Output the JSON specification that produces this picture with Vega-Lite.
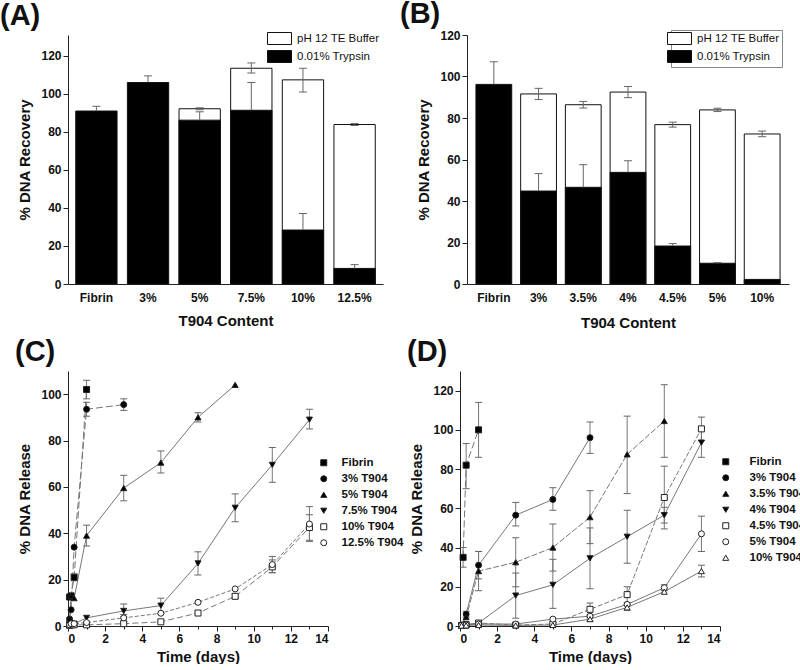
{
  "$schema": "https://vega.github.io/schema/vega-lite/v6.json",
  "padding": {"left": 0, "top": 0, "right": 0, "bottom": 0},
  "config": {
    "view": {"stroke": null},
    "font": "Liberation Sans",
    "axis": {"labelFont": "Liberation Sans", "labelFontWeight": "bold", "labelFontSize": 12, "labelColor": "#111", "titleFont": "Liberation Sans", "titleFontWeight": "bold", "titleFontSize": 15, "titleColor": "#111", "domainColor": "#222", "tickColor": "#222", "grid": false, "tickSize": 5, "labelOverlap": false},
    "legend": {"labelFont": "Liberation Sans", "labelColor": "#111"},
    "title": {"font": "Liberation Sans", "fontSize": 29, "fontWeight": "bold", "anchor": "start", "frame": "group", "color": "#111"}
  },
  "datasets": {
    "barsA": [
      {"group": "5%", "series": "pH 12 TE Buffer", "value": 92.2, "lo": 91.7, "hi": 92.7},
      {"group": "7.5%", "series": "pH 12 TE Buffer", "value": 113.5, "lo": 111, "hi": 116.3},
      {"group": "10%", "series": "pH 12 TE Buffer", "value": 107.4, "lo": 101, "hi": 113.5},
      {"group": "12.5%", "series": "pH 12 TE Buffer", "value": 83.9, "lo": 83.4, "hi": 84.4},
      {"group": "Fibrin", "series": "0.01% Trypsin", "value": 91, "lo": 91, "hi": 93.5},
      {"group": "3%", "series": "0.01% Trypsin", "value": 106, "lo": 106, "hi": 109.5},
      {"group": "5%", "series": "0.01% Trypsin", "value": 86.2, "lo": 86.2, "hi": 90.6},
      {"group": "7.5%", "series": "0.01% Trypsin", "value": 91.4, "lo": 91.4, "hi": 106},
      {"group": "10%", "series": "0.01% Trypsin", "value": 28.4, "lo": 28.4, "hi": 37.1},
      {"group": "12.5%", "series": "0.01% Trypsin", "value": 8.2, "lo": 8.2, "hi": 10.2}
    ],
    "barsB": [
      {"group": "3%", "series": "pH 12 TE Buffer", "value": 91.6, "lo": 88.9, "hi": 94.3},
      {"group": "3.5%", "series": "pH 12 TE Buffer", "value": 86.4, "lo": 84.8, "hi": 88.0},
      {"group": "4%", "series": "pH 12 TE Buffer", "value": 92.5, "lo": 89.8, "hi": 95.2},
      {"group": "4.5%", "series": "pH 12 TE Buffer", "value": 76.8, "lo": 75.6, "hi": 78.0},
      {"group": "5%", "series": "pH 12 TE Buffer", "value": 83.9, "lo": 83.1, "hi": 84.7},
      {"group": "10%", "series": "pH 12 TE Buffer", "value": 72.3, "lo": 71.0, "hi": 73.7},
      {"group": "Fibrin", "series": "0.01% Trypsin", "value": 96.2, "lo": 96.2, "hi": 107.1},
      {"group": "3%", "series": "0.01% Trypsin", "value": 44.8, "lo": 44.8, "hi": 53.2},
      {"group": "3.5%", "series": "0.01% Trypsin", "value": 46.6, "lo": 46.6, "hi": 57.5},
      {"group": "4%", "series": "0.01% Trypsin", "value": 53.8, "lo": 53.8, "hi": 59.4},
      {"group": "4.5%", "series": "0.01% Trypsin", "value": 18.3, "lo": 18.3, "hi": 19.5},
      {"group": "5%", "series": "0.01% Trypsin", "value": 10.0, "lo": 10.0, "hi": 10.3},
      {"group": "10%", "series": "0.01% Trypsin", "value": 2.2}
    ],
    "relC": [
      {"series": "Fibrin", "t": 0.083, "v": 12.5},
      {"series": "Fibrin", "t": 0.167, "v": 13},
      {"series": "Fibrin", "t": 0.33, "v": 21, "lo": 19.5, "hi": 22.5},
      {"series": "Fibrin", "t": 1, "v": 102, "lo": 98, "hi": 106},
      {"series": "3% T904", "t": 0.083, "v": 3},
      {"series": "3% T904", "t": 0.167, "v": 7},
      {"series": "3% T904", "t": 0.33, "v": 34},
      {"series": "3% T904", "t": 1, "v": 93.5, "lo": 90.5, "hi": 96.5},
      {"series": "3% T904", "t": 3, "v": 95.5, "lo": 93, "hi": 98},
      {"series": "5% T904", "t": 0.083, "v": 3},
      {"series": "5% T904", "t": 0.167, "v": 13},
      {"series": "5% T904", "t": 0.33, "v": 12},
      {"series": "5% T904", "t": 1, "v": 39, "lo": 34.5, "hi": 43.5},
      {"series": "5% T904", "t": 3, "v": 59.5, "lo": 54, "hi": 65},
      {"series": "5% T904", "t": 5, "v": 70.5, "lo": 66, "hi": 75.5},
      {"series": "5% T904", "t": 7, "v": 90, "lo": 88, "hi": 92},
      {"series": "5% T904", "t": 9, "v": 104},
      {"series": "7.5% T904", "t": 0.083, "v": 0.5},
      {"series": "7.5% T904", "t": 0.167, "v": 1},
      {"series": "7.5% T904", "t": 0.33, "v": 1},
      {"series": "7.5% T904", "t": 1, "v": 3.5},
      {"series": "7.5% T904", "t": 3, "v": 6.5, "lo": 4, "hi": 9.5},
      {"series": "7.5% T904", "t": 5, "v": 8.8, "lo": 5.5, "hi": 12},
      {"series": "7.5% T904", "t": 7, "v": 27, "lo": 22, "hi": 32},
      {"series": "7.5% T904", "t": 9, "v": 51, "lo": 45, "hi": 57},
      {"series": "7.5% T904", "t": 11, "v": 69.5, "lo": 62, "hi": 77},
      {"series": "7.5% T904", "t": 13, "v": 89, "lo": 85, "hi": 93.5},
      {"series": "10% T904", "t": 0.083, "v": 0.3},
      {"series": "10% T904", "t": 0.167, "v": 0.5},
      {"series": "10% T904", "t": 0.33, "v": 0.5},
      {"series": "10% T904", "t": 1, "v": 0.5},
      {"series": "10% T904", "t": 3, "v": 1},
      {"series": "10% T904", "t": 5, "v": 1.8},
      {"series": "10% T904", "t": 7, "v": 5.6},
      {"series": "10% T904", "t": 9, "v": 12.8, "lo": 12, "hi": 13.8},
      {"series": "10% T904", "t": 11, "v": 25.5, "lo": 23, "hi": 28.5},
      {"series": "10% T904", "t": 13, "v": 42.5, "lo": 37, "hi": 48},
      {"series": "12.5% T904", "t": 0.083, "v": 0.5},
      {"series": "12.5% T904", "t": 0.167, "v": 1},
      {"series": "12.5% T904", "t": 0.33, "v": 1},
      {"series": "12.5% T904", "t": 1, "v": 1.5},
      {"series": "12.5% T904", "t": 3, "v": 3.5, "lo": 2, "hi": 5},
      {"series": "12.5% T904", "t": 5, "v": 5.5},
      {"series": "12.5% T904", "t": 7, "v": 10.2},
      {"series": "12.5% T904", "t": 9, "v": 16},
      {"series": "12.5% T904", "t": 11, "v": 26.5, "lo": 23, "hi": 30},
      {"series": "12.5% T904", "t": 13, "v": 44, "lo": 36.5, "hi": 51.5}
    ],
    "relD": [
      {"series": "Fibrin", "t": 0.167, "v": 35, "lo": 30, "hi": 40},
      {"series": "Fibrin", "t": 0.33, "v": 82, "lo": 70, "hi": 93},
      {"series": "Fibrin", "t": 1, "v": 100, "lo": 86, "hi": 114},
      {"series": "3% T904", "t": 0.083, "v": 0.5},
      {"series": "3% T904", "t": 0.33, "v": 6, "lo": 4.5, "hi": 7.5},
      {"series": "3% T904", "t": 1, "v": 31, "lo": 24, "hi": 38},
      {"series": "3% T904", "t": 3, "v": 56.5, "lo": 51, "hi": 63},
      {"series": "3% T904", "t": 5, "v": 64.5, "lo": 59, "hi": 70.5},
      {"series": "3% T904", "t": 7, "v": 96, "lo": 88, "hi": 104},
      {"series": "3.5% T904", "t": 0.083, "v": 0.5},
      {"series": "3.5% T904", "t": 0.33, "v": 4.5},
      {"series": "3.5% T904", "t": 1, "v": 28, "lo": 18, "hi": 38},
      {"series": "3.5% T904", "t": 3, "v": 32.5, "lo": 20, "hi": 45},
      {"series": "3.5% T904", "t": 5, "v": 40, "lo": 28, "hi": 52},
      {"series": "3.5% T904", "t": 7, "v": 55.5, "lo": 42, "hi": 69},
      {"series": "3.5% T904", "t": 9, "v": 87.5, "lo": 67.5, "hi": 107},
      {"series": "3.5% T904", "t": 11, "v": 104.5, "lo": 86, "hi": 123},
      {"series": "4% T904", "t": 0.083, "v": 0.3},
      {"series": "4% T904", "t": 0.33, "v": 0.8},
      {"series": "4% T904", "t": 1, "v": 1.5},
      {"series": "4% T904", "t": 3, "v": 15.5, "lo": 4, "hi": 27},
      {"series": "4% T904", "t": 5, "v": 21, "lo": 9, "hi": 34},
      {"series": "4% T904", "t": 7, "v": 34.5, "lo": 19, "hi": 50},
      {"series": "4% T904", "t": 9, "v": 45.5, "lo": 32, "hi": 59},
      {"series": "4% T904", "t": 11, "v": 56.5, "lo": 52.5, "hi": 60.5},
      {"series": "4% T904", "t": 13, "v": 93.5, "lo": 86, "hi": 101},
      {"series": "4.5% T904", "t": 0.083, "v": 0.3},
      {"series": "4.5% T904", "t": 0.33, "v": 0.5},
      {"series": "4.5% T904", "t": 1, "v": 1.5},
      {"series": "4.5% T904", "t": 3, "v": 0.5},
      {"series": "4.5% T904", "t": 5, "v": 1},
      {"series": "4.5% T904", "t": 7, "v": 8.5, "lo": 5.5, "hi": 11.7},
      {"series": "4.5% T904", "t": 9, "v": 16, "lo": 12, "hi": 20},
      {"series": "4.5% T904", "t": 11, "v": 65.5, "lo": 49.5, "hi": 81.5},
      {"series": "4.5% T904", "t": 13, "v": 100.5, "lo": 94.5, "hi": 106.5},
      {"series": "5% T904", "t": 0.083, "v": 0.3},
      {"series": "5% T904", "t": 0.33, "v": 0.5},
      {"series": "5% T904", "t": 1, "v": 1},
      {"series": "5% T904", "t": 3, "v": 1},
      {"series": "5% T904", "t": 5, "v": 3.5},
      {"series": "5% T904", "t": 7, "v": 5},
      {"series": "5% T904", "t": 9, "v": 11},
      {"series": "5% T904", "t": 11, "v": 19.5, "lo": 18, "hi": 21},
      {"series": "5% T904", "t": 13, "v": 47, "lo": 38, "hi": 56},
      {"series": "10% T904", "t": 0.083, "v": 0.2},
      {"series": "10% T904", "t": 0.33, "v": 0.3},
      {"series": "10% T904", "t": 1, "v": 0.5},
      {"series": "10% T904", "t": 3, "v": 0.3},
      {"series": "10% T904", "t": 5, "v": 0.5},
      {"series": "10% T904", "t": 7, "v": 3.5, "lo": 2.5, "hi": 4.5},
      {"series": "10% T904", "t": 9, "v": 9.5, "lo": 8, "hi": 11},
      {"series": "10% T904", "t": 11, "v": 17.5},
      {"series": "10% T904", "t": 13, "v": 28, "lo": 25, "hi": 31}
    ]
  },
  "resolve": {"scale": {"fill": "independent", "shape": "independent"}, "legend": {"fill": "independent", "shape": "independent"}},
  "spacing": 8,
  "vconcat": [
    {
      "concat": [
        {
          "title": {"text": "(A)", "dx": -68, "offset": 1},
          "width": 315, "height": 249,
          "data": {"name": "barsA"},
          "encoding": {"x": {"field": "group", "type": "nominal", "sort": null, "scale": {"domain": ["Fibrin", "3%", "5%", "7.5%", "10%", "12.5%"], "paddingInner": 0.2, "paddingOuter": 0.15}, "axis": {"title": "T904 Content", "labelAngle": 0, "ticks": false, "labelPadding": 8, "titlePadding": 10}}},
          "layer": [
            {"mark": {"type": "bar", "stroke": "#111", "strokeWidth": 1, "opacity": 1},
             "encoding": {
               "y": {"field": "value", "type": "quantitative", "stack": null, "scale": {"domain": [0, 131], "nice": false}, "axis": {"title": "% DNA Recovery", "values": [0, 10, 20, 30, 40, 50, 60, 70, 80, 90, 100, 110, 120], "labelExpr": "datum.value % 20 === 0 ? datum.label : ''", "tickSize": {"condition": {"test": "datum.value % 20 !== 0", "value": 3}, "value": 5}, "titlePadding": 8}},
               "fill": {"field": "series", "type": "nominal", "scale": {"domain": ["pH 12 TE Buffer", "0.01% Trypsin"], "range": ["white", "black"]},
                 "legend": {"title": null, "orient": "none", "legendX": 205, "legendY": -3, "symbolType": "M-2,-1H2V1H-2Z", "symbolSize": 144, "symbolStrokeColor": "#111", "symbolStrokeWidth": 1, "symbolOpacity": 1, "labelOffset": 11, "labelFontSize": 11.5, "labelFontWeight": "normal", "rowPadding": 1, "padding": 0}}
             }},
            {"mark": {"type": "rule", "color": "#666"}, "encoding": {"y": {"field": "lo", "type": "quantitative"}, "y2": {"field": "hi"}}},
            {"mark": {"type": "tick", "orient": "horizontal", "color": "#666", "size": 8, "thickness": 1, "opacity": 1}, "encoding": {"y": {"field": "hi", "type": "quantitative"}}},
            {"transform": [{"filter": "datum.series == 'pH 12 TE Buffer'"}], "mark": {"type": "tick", "orient": "horizontal", "color": "#666", "size": 8, "thickness": 1, "opacity": 1}, "encoding": {"y": {"field": "lo", "type": "quantitative"}}}
          ]
        },
        {
          "title": {"text": "(B)", "dx": -67, "offset": 0},
          "width": 322, "height": 249,
          "data": {"name": "barsB"},
          "encoding": {"x": {"field": "group", "type": "nominal", "sort": null, "scale": {"domain": ["Fibrin", "3%", "3.5%", "4%", "4.5%", "5%", "10%"], "paddingInner": 0.2, "paddingOuter": 0.2}, "axis": {"title": "T904 Content", "labelAngle": 0, "ticks": false, "labelPadding": 8, "titlePadding": 12}}},
          "layer": [
            {"mark": {"type": "bar", "stroke": "#111", "strokeWidth": 1, "opacity": 1},
             "encoding": {
               "y": {"field": "value", "type": "quantitative", "stack": null, "scale": {"domain": [0, 120], "nice": false}, "axis": {"title": "% DNA Recovery", "values": [0, 10, 20, 30, 40, 50, 60, 70, 80, 90, 100, 110, 120], "labelExpr": "datum.value % 20 === 0 ? datum.label : ''", "tickSize": {"condition": {"test": "datum.value % 20 !== 0", "value": 3}, "value": 5}, "titlePadding": 8}},
               "fill": {"field": "series", "type": "nominal", "scale": {"domain": ["pH 12 TE Buffer", "0.01% Trypsin"], "range": ["white", "black"]},
                 "legend": {"title": null, "orient": "none", "legendX": 204, "legendY": -5, "strokeColor": "#888", "symbolType": "M-2,-1H2V1H-2Z", "symbolSize": 144, "symbolStrokeColor": "#111", "symbolStrokeWidth": 1, "symbolOpacity": 1, "labelOffset": 11, "labelFontSize": 11.5, "labelFontWeight": "normal", "rowPadding": 1, "padding": 2}}
             }},
            {"mark": {"type": "rule", "color": "#666"}, "encoding": {"y": {"field": "lo", "type": "quantitative"}, "y2": {"field": "hi"}}},
            {"mark": {"type": "tick", "orient": "horizontal", "color": "#666", "size": 8, "thickness": 1, "opacity": 1}, "encoding": {"y": {"field": "hi", "type": "quantitative"}}},
            {"transform": [{"filter": "datum.series == 'pH 12 TE Buffer'"}], "mark": {"type": "tick", "orient": "horizontal", "color": "#666", "size": 8, "thickness": 1, "opacity": 1}, "encoding": {"y": {"field": "lo", "type": "quantitative"}}}
          ]
        }
      ],
      "columns": 2,
      "align": "none",
      "spacing": 17,
      "resolve": {"scale": {"fill": "independent"}, "legend": {"fill": "independent"}}
    },
    {
      "concat": [
        {
          "title": {"text": "(C)", "dx": -53, "offset": 4},
          "width": 260, "height": 255,
          "data": {"name": "relC"},
          "encoding": {
            "x": {"field": "t", "type": "quantitative", "scale": {"domain": [0, 14], "nice": false}, "axis": {"title": "Time (days)", "values": [0, 1, 2, 3, 4, 5, 6, 7, 8, 9, 10, 11, 12, 13, 14], "labelExpr": "datum.value % 2 === 0 ? datum.label : ''", "tickSize": {"condition": {"test": "datum.value % 2 !== 0", "value": 3}, "value": 5}, "titlePadding": 5}}
          },
          "layer": [
            {"transform": [{"filter": "indexof(['Fibrin', '3% T904'], datum.series) >= 0"}], "mark": {"type": "line", "color": "#777", "strokeWidth": 1, "strokeDash": [7, 3]},
             "encoding": {
               "y": {"field": "v", "type": "quantitative", "scale": {"domain": [0, 110], "nice": false}, "axis": {"title": "% DNA Release", "values": [0, 10, 20, 30, 40, 50, 60, 70, 80, 90, 100, 110], "labelExpr": "datum.value % 20 === 0 ? datum.label : ''", "tickSize": {"condition": {"test": "datum.value % 20 !== 0", "value": 3}, "value": 5}, "titlePadding": 8}},
               "detail": {"field": "series", "type": "nominal"}
             }},
            {"transform": [{"filter": "indexof(['5% T904', '7.5% T904'], datum.series) >= 0"}], "mark": {"type": "line", "color": "#777", "strokeWidth": 1},
             "encoding": {"y": {"field": "v", "type": "quantitative"}, "detail": {"field": "series", "type": "nominal"}}},
            {"transform": [{"filter": "datum.series === '10% T904'"}], "mark": {"type": "line", "color": "#777", "strokeWidth": 1, "strokeDash": [6, 3]},
             "encoding": {"y": {"field": "v", "type": "quantitative"}}},
            {"transform": [{"filter": "datum.series === '12.5% T904'"}], "mark": {"type": "line", "color": "#777", "strokeWidth": 1, "strokeDash": [4, 2]},
             "encoding": {"y": {"field": "v", "type": "quantitative"}}},
            {"transform": [{"filter": "isValid(datum.lo)"}], "mark": {"type": "rule", "color": "#777"}, "encoding": {"y": {"field": "lo", "type": "quantitative"}, "y2": {"field": "hi"}}},
            {"transform": [{"filter": "isValid(datum.lo)"}], "mark": {"type": "tick", "orient": "horizontal", "color": "#666", "size": 7, "thickness": 1, "opacity": 1}, "encoding": {"y": {"field": "hi", "type": "quantitative"}}},
            {"transform": [{"filter": "isValid(datum.lo)"}], "mark": {"type": "tick", "orient": "horizontal", "color": "#666", "size": 7, "thickness": 1, "opacity": 1}, "encoding": {"y": {"field": "lo", "type": "quantitative"}}},
            {"mark": {"type": "point", "filled": true, "stroke": "#222", "strokeWidth": 1, "opacity": 1, "size": 36},
             "encoding": {
               "y": {"field": "v", "type": "quantitative"},
               "fill": {"field": "series", "type": "nominal", "scale": {"domain": ["Fibrin", "3% T904", "5% T904", "7.5% T904", "10% T904", "12.5% T904"], "range": ["black", "black", "black", "black", "white", "white"]},
                 "legend": {"title": null, "orient": "none", "legendX": 250, "legendY": 86, "symbolSize": 36, "symbolStrokeColor": "#222", "symbolStrokeWidth": 1, "symbolOpacity": 1, "labelOffset": 12, "labelFontSize": 11.5, "labelFontWeight": "bold", "rowPadding": 3, "padding": 0,
                   "encode": {"symbols": {"update": {
                     "opacity": {"value": 1},
                     "stroke": {"value": "#222"},
                     "strokeWidth": {"value": 1},
                     "shape": {"signal": "datum.value === 'Fibrin' ? 'M-4,0H-1M1,0H4M-0.85,-0.85H0.85V0.85H-0.85Z' : datum.value === '3% T904' ? 'M-4,0H-1M1,0H4M-0.95,0A0.95,0.95,0,1,0,0.95,0A0.95,0.95,0,1,0,-0.95,0Z' : datum.value === '5% T904' ? 'M-4,0H-1M1,0H4M0,-1.05L1.05,0.8H-1.05Z' : datum.value === '7.5% T904' ? 'M-4,0H-1M1,0H4M0,1.05L1.05,-0.8H-1.05Z' : datum.value === '10% T904' ? 'M-4,0H-1M1,0H4M-0.85,-0.85H0.85V0.85H-0.85Z' : 'M-0.95,0A0.95,0.95,0,1,0,0.95,0A0.95,0.95,0,1,0,-0.95,0Z'"},
                     "fill": {"signal": "datum.value === '10% T904' || datum.value === '12.5% T904' ? 'white' : 'black'"}
                   }}}}},
               "shape": {"field": "series", "type": "nominal", "scale": {"domain": ["Fibrin", "3% T904", "5% T904", "7.5% T904", "10% T904", "12.5% T904"], "range": ["square", "circle", "triangle-up", "triangle-down", "square", "circle"]},
                 "legend": {"title": null, "orient": "none", "legendX": 250, "legendY": 86, "symbolSize": 36, "symbolStrokeColor": "#222", "symbolStrokeWidth": 1, "symbolOpacity": 1, "labelOffset": 12, "labelFontSize": 11.5, "labelFontWeight": "bold", "rowPadding": 3, "padding": 0,
                   "encode": {"symbols": {"update": {
                     "opacity": {"value": 1},
                     "stroke": {"value": "#222"},
                     "strokeWidth": {"value": 1},
                     "shape": {"signal": "datum.value === 'Fibrin' ? 'M-4,0H-1M1,0H4M-0.85,-0.85H0.85V0.85H-0.85Z' : datum.value === '3% T904' ? 'M-4,0H-1M1,0H4M-0.95,0A0.95,0.95,0,1,0,0.95,0A0.95,0.95,0,1,0,-0.95,0Z' : datum.value === '5% T904' ? 'M-4,0H-1M1,0H4M0,-1.05L1.05,0.8H-1.05Z' : datum.value === '7.5% T904' ? 'M-4,0H-1M1,0H4M0,1.05L1.05,-0.8H-1.05Z' : datum.value === '10% T904' ? 'M-4,0H-1M1,0H4M-0.85,-0.85H0.85V0.85H-0.85Z' : 'M-0.95,0A0.95,0.95,0,1,0,0.95,0A0.95,0.95,0,1,0,-0.95,0Z'"},
                     "fill": {"signal": "datum.value === '10% T904' || datum.value === '12.5% T904' ? 'white' : 'black'"}
                   }}}}}
             }}
          ]
        },
        {
          "title": {"text": "(D)", "dx": -53, "offset": 4},
          "width": 260, "height": 255,
          "data": {"name": "relD"},
          "encoding": {
            "x": {"field": "t", "type": "quantitative", "scale": {"domain": [0, 14], "nice": false}, "axis": {"title": "Time (days)", "values": [0, 1, 2, 3, 4, 5, 6, 7, 8, 9, 10, 11, 12, 13, 14], "labelExpr": "datum.value % 2 === 0 ? datum.label : ''", "tickSize": {"condition": {"test": "datum.value % 2 !== 0", "value": 3}, "value": 5}, "titlePadding": 5}}
          },
          "layer": [
            {"transform": [{"filter": "datum.series === 'Fibrin'"}], "mark": {"type": "line", "color": "#777", "strokeWidth": 1, "strokeDash": [7, 3]},
             "encoding": {
               "y": {"field": "v", "type": "quantitative", "scale": {"domain": [0, 130], "nice": false}, "axis": {"title": "% DNA Release", "values": [0, 10, 20, 30, 40, 50, 60, 70, 80, 90, 100, 110, 120, 130], "labelExpr": "datum.value % 20 === 0 ? datum.label : ''", "tickSize": {"condition": {"test": "datum.value % 20 !== 0", "value": 3}, "value": 5}, "titlePadding": 8}}
             }},
            {"transform": [{"filter": "indexof(['3% T904', '4% T904', '5% T904', '10% T904'], datum.series) >= 0"}], "mark": {"type": "line", "color": "#777", "strokeWidth": 1},
             "encoding": {"y": {"field": "v", "type": "quantitative"}, "detail": {"field": "series", "type": "nominal"}}},
            {"transform": [{"filter": "datum.series === '3.5% T904'"}], "mark": {"type": "line", "color": "#777", "strokeWidth": 1, "strokeDash": [6, 2]},
             "encoding": {"y": {"field": "v", "type": "quantitative"}}},
            {"transform": [{"filter": "datum.series === '4.5% T904'"}], "mark": {"type": "line", "color": "#777", "strokeWidth": 1, "strokeDash": [5, 2]},
             "encoding": {"y": {"field": "v", "type": "quantitative"}}},
            {"transform": [{"filter": "isValid(datum.lo)"}], "mark": {"type": "rule", "color": "#777"}, "encoding": {"y": {"field": "lo", "type": "quantitative"}, "y2": {"field": "hi"}}},
            {"transform": [{"filter": "isValid(datum.lo)"}], "mark": {"type": "tick", "orient": "horizontal", "color": "#666", "size": 7, "thickness": 1, "opacity": 1}, "encoding": {"y": {"field": "hi", "type": "quantitative"}}},
            {"transform": [{"filter": "isValid(datum.lo)"}], "mark": {"type": "tick", "orient": "horizontal", "color": "#666", "size": 7, "thickness": 1, "opacity": 1}, "encoding": {"y": {"field": "lo", "type": "quantitative"}}},
            {"mark": {"type": "point", "filled": true, "stroke": "#222", "strokeWidth": 1, "opacity": 1, "size": 36},
             "encoding": {
               "y": {"field": "v", "type": "quantitative"},
               "fill": {"field": "series", "type": "nominal", "scale": {"domain": ["Fibrin", "3% T904", "3.5% T904", "4% T904", "4.5% T904", "5% T904", "10% T904"], "range": ["black", "black", "black", "black", "white", "white", "white"]},
                 "legend": {"title": null, "orient": "none", "legendX": 260, "legendY": 85, "symbolSize": 36, "symbolStrokeColor": "#222", "symbolStrokeWidth": 1, "symbolOpacity": 1, "labelOffset": 18, "labelFontSize": 11.5, "labelFontWeight": "bold", "rowPadding": 3, "padding": 0,
                   "encode": {"symbols": {"update": {
                     "opacity": {"value": 1},
                     "stroke": {"value": "#222"},
                     "strokeWidth": {"value": 1},
                     "shape": {"signal": "datum.value === 'Fibrin' ? 'M-0.85,-0.85H0.85V0.85H-0.85Z' : datum.value === '3% T904' ? 'M-0.95,0A0.95,0.95,0,1,0,0.95,0A0.95,0.95,0,1,0,-0.95,0Z' : datum.value === '3.5% T904' ? 'M-4,0H-1M1,0H4M0,-1.05L1.05,0.8H-1.05Z' : datum.value === '4% T904' ? 'M-4,0H-1M1,0H4M0,1.05L1.05,-0.8H-1.05Z' : datum.value === '4.5% T904' ? 'M-4,0H-1M1,0H4M-0.85,-0.85H0.85V0.85H-0.85Z' : datum.value === '5% T904' ? 'M-4,0H-1M1,0H4M-0.95,0A0.95,0.95,0,1,0,0.95,0A0.95,0.95,0,1,0,-0.95,0Z' : 'M-4,0H-1M1,0H4M0,-1.05L1.05,0.8H-1.05Z'"},
                     "fill": {"signal": "datum.value === '4.5% T904' || datum.value === '5% T904' || datum.value === '10% T904' ? 'white' : 'black'"}
                   }}}}},
               "shape": {"field": "series", "type": "nominal", "scale": {"domain": ["Fibrin", "3% T904", "3.5% T904", "4% T904", "4.5% T904", "5% T904", "10% T904"], "range": ["square", "circle", "triangle-up", "triangle-down", "square", "circle", "triangle-up"]},
                 "legend": {"title": null, "orient": "none", "legendX": 260, "legendY": 85, "symbolSize": 36, "symbolStrokeColor": "#222", "symbolStrokeWidth": 1, "symbolOpacity": 1, "labelOffset": 18, "labelFontSize": 11.5, "labelFontWeight": "bold", "rowPadding": 3, "padding": 0,
                   "encode": {"symbols": {"update": {
                     "opacity": {"value": 1},
                     "stroke": {"value": "#222"},
                     "strokeWidth": {"value": 1},
                     "shape": {"signal": "datum.value === 'Fibrin' ? 'M-0.85,-0.85H0.85V0.85H-0.85Z' : datum.value === '3% T904' ? 'M-0.95,0A0.95,0.95,0,1,0,0.95,0A0.95,0.95,0,1,0,-0.95,0Z' : datum.value === '3.5% T904' ? 'M-4,0H-1M1,0H4M0,-1.05L1.05,0.8H-1.05Z' : datum.value === '4% T904' ? 'M-4,0H-1M1,0H4M0,1.05L1.05,-0.8H-1.05Z' : datum.value === '4.5% T904' ? 'M-4,0H-1M1,0H4M-0.85,-0.85H0.85V0.85H-0.85Z' : datum.value === '5% T904' ? 'M-4,0H-1M1,0H4M-0.95,0A0.95,0.95,0,1,0,0.95,0A0.95,0.95,0,1,0,-0.95,0Z' : 'M-4,0H-1M1,0H4M0,-1.05L1.05,0.8H-1.05Z'"},
                     "fill": {"signal": "datum.value === '4.5% T904' || datum.value === '5% T904' || datum.value === '10% T904' ? 'white' : 'black'"}
                   }}}}}
             }}
          ]
        }
      ],
      "columns": 2,
      "align": "none",
      "spacing": 3,
      "resolve": {"scale": {"fill": "independent", "shape": "independent"}, "legend": {"fill": "independent", "shape": "independent"}}
    }
  ]
}
